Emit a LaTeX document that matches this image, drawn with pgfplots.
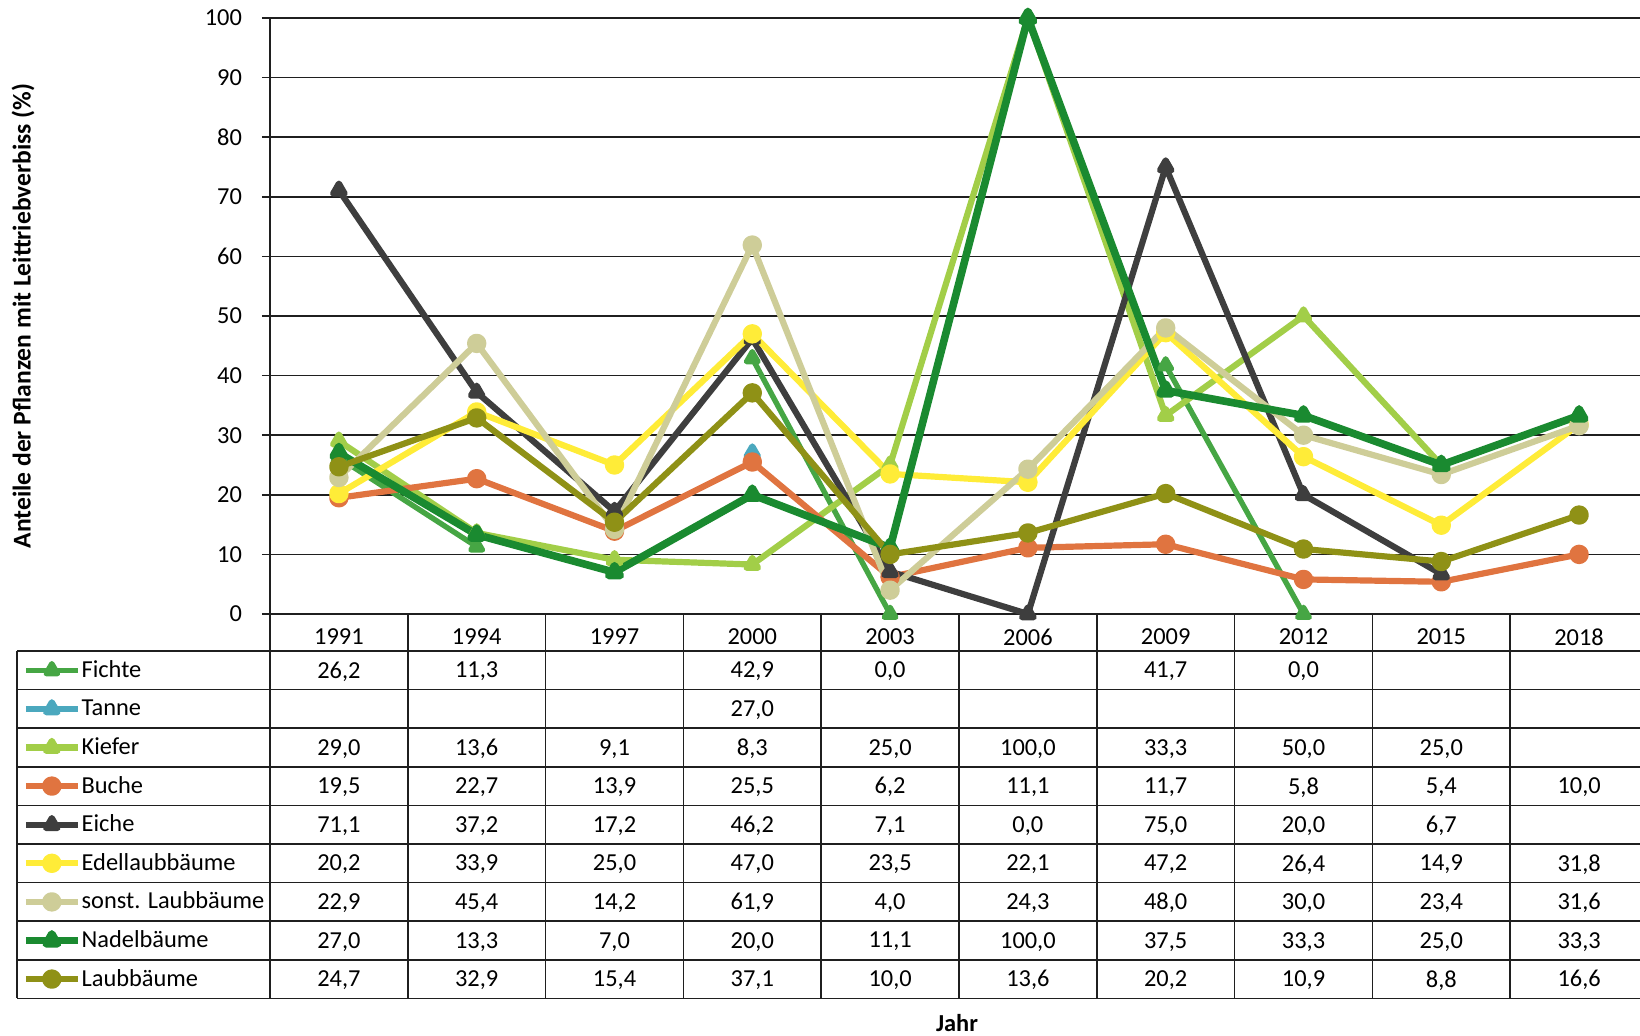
\documentclass[border=0pt]{standalone}
\usepackage{fontspec}
\setmainfont{Carlito}
\usepackage{pgfplots}
\pgfplotsset{compat=1.18}
\usepackage{pgfplotstable}

\definecolor{cFichte}{RGB}{70,166,68}
\definecolor{cTanne}{RGB}{75,168,190}
\definecolor{cKiefer}{RGB}{162,206,72}
\definecolor{cBuche}{RGB}{224,116,64}
\definecolor{cEiche}{RGB}{62,62,62}
\definecolor{cEdel}{RGB}{255,236,56}
\definecolor{cSonst}{RGB}{206,205,152}
\definecolor{cNadel}{RGB}{26,138,48}
\definecolor{cLaub}{RGB}{143,145,22}

% Anteile mit Leittriebverbiss, nan = kein Wert
\pgfplotstableread{
x Fichte Tanne Kiefer Buche Eiche Edel Sonst Nadel Laub
0 26.2 nan  29.0  19.5 71.1 20.2 22.9 27.0  24.7
1 11.3 nan  13.6  22.7 37.2 33.9 45.4 13.3  32.9
2 nan  nan  9.1   13.9 17.2 25.0 14.2 7.0   15.4
3 42.9 27.0 8.3   25.5 46.2 47.0 61.9 20.0  37.1
4 0.0  nan  25.0  6.2  7.1  23.5 4.0  11.1  10.0
5 nan  nan  100.0 11.1 0.0  22.1 24.3 100.0 13.6
6 41.7 nan  33.3  11.7 75.0 47.2 48.0 37.5  20.2
7 0.0  nan  50.0  5.8  20.0 26.4 30.0 33.3  10.9
8 nan  nan  25.0  5.4  6.7  14.9 23.4 25.0  8.8
9 nan  nan  nan   10.0 nan  31.8 31.6 33.3  16.6
}\datatab

\def\nanstr{nan}

\begin{document}
\begin{tikzpicture}[font=\fontsize{12.2}{14.6}\selectfont]
\path[use as bounding box] (0,0) rectangle (820pt,518pt);
\begin{axis}[
  at={(135pt,211pt)}, anchor=south west,
  scale only axis, width=685pt, height=298pt,
  xmin=-0.5, xmax=9.442, ymin=0, ymax=100,
  clip=false,
  axis line style={draw=none},
  ytick={0,10,...,100},
  xtick={0,...,9},
  xticklabels={1991,1994,1997,2000,2003,2006,2009,2012,2015,2018},
  major x tick style={draw=none},
  xticklabel style={anchor=center, yshift=-7.5pt},
  yticklabel style={xshift=-6.5pt},
  ymajorgrids, grid style={black!88, line width=0.8pt},
  y tick style={black!88, line width=0.8pt},
  tick align=outside, major tick length=4pt,
  /pgf/number format/assume math mode=true,
  ylabel={Anteile der Pflanzen mit Leittriebverbiss (\%)},
  ylabel style={at={(axis description cs:-0.1803,0.5)}, anchor=center, font=\fontsize{12.8}{15}\selectfont\bfseries},
  xlabel={Jahr},
  xlabel style={at={(axis description cs:0.5015,-0.686)}, anchor=center, font=\fontsize{12.2}{14.6}\selectfont\bfseries},
  unbounded coords=jump,
  every axis plot/.append style={line width=3.1pt, line join=round, mark size=3.3pt, mark options={solid}},
  legend image code/.code={\draw[mark repeat=2, mark phase=2] plot coordinates {(0pt,0pt) (13pt,0pt) (26pt,0pt)};},
  legend style={at={(axis description cs:-0.1810,-0.0621)}, anchor=north west,
    draw=none, fill=none, inner sep=0pt, outer sep=0pt, row sep=0pt, column sep=0pt,
    nodes={inner sep=0pt, minimum height=19.3pt}},
  legend cell align=left,
]
\addplot[color=cFichte, line width=2.7pt, mark=triangle*] table[x=x, y=Fichte] {\datatab};
\addlegendentry{Fichte}
\addplot[color=cTanne, mark=triangle*] table[x=x, y=Tanne] {\datatab};
\addlegendentry{Tanne}
\addplot[color=cKiefer, mark=triangle*] table[x=x, y=Kiefer] {\datatab};
\addlegendentry{Kiefer}
\addplot[color=cBuche, mark=*] table[x=x, y=Buche] {\datatab};
\addlegendentry{Buche}
\addplot[color=cEiche, mark=triangle*] table[x=x, y=Eiche] {\datatab};
\addlegendentry{Eiche}
\addplot[color=cEdel, mark=*] table[x=x, y=Edel] {\datatab};
\addlegendentry{Edellaubbäume}
\addplot[color=cSonst, mark=*] table[x=x, y=Sonst] {\datatab};
\addlegendentry{sonst. Laubbäume}
\addplot[color=cNadel, line width=3.8pt, mark=triangle*] table[x=x, y=Nadel] {\datatab};
\addlegendentry{Nadelbäume}
\addplot[color=cLaub, mark=*] table[x=x, y=Laub] {\datatab};
\addlegendentry{Laubbäume}
\end{axis}

% Datentabelle unter dem Diagramm
\begin{scope}[black!88, line width=0.8pt]
  \foreach \k in {0,...,9}
    \draw (8.5pt,{192.5pt-19.3pt*\k}) -- (820pt,{192.5pt-19.3pt*\k});
  \draw (8.5pt,192.5pt) -- (8.5pt,18.8pt);
  \draw (135pt,509pt) -- (135pt,18.8pt);
  \foreach \j in {1,...,9}
    \draw ({135pt+68.9pt*\j},211pt) -- ({135pt+68.9pt*\j},18.8pt);
\end{scope}
\foreach \col [count=\r from 0] in {Fichte,Tanne,Kiefer,Buche,Eiche,Edel,Sonst,Nadel,Laub}{
  \foreach \i in {0,...,9}{
    \pgfplotstablegetelem{\i}{\col}\of\datatab
    \edef\val{\pgfplotsretval}
    \ifx\val\nanstr\else
      \node at ({135pt+68.9pt*(\i+0.5)},{192.5pt-19.3pt*(\r+0.5)-0.6pt})
        {\pgfmathprintnumber[fixed, fixed zerofill, precision=1, use comma, assume math mode=true]{\val}};
    \fi
  }
}
\end{tikzpicture}
\end{document}
